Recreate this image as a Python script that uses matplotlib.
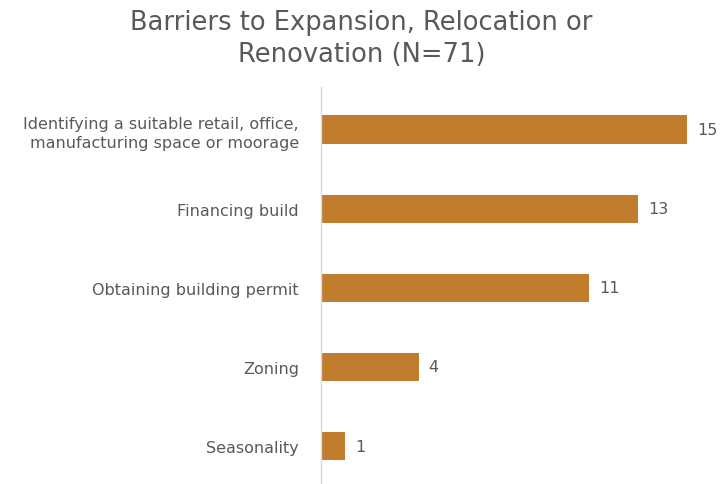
import matplotlib.pyplot as plt

plt.rcParams['font.family'] = ['DejaVu Sans']

categories = [
    "Identifying a suitable retail, office,\nmanufacturing space or moorage",
    "Financing build",
    "Obtaining building permit",
    "Zoning",
    "Seasonality",
]
counts = [15, 13, 11, 4, 1]

bar_color = "#C27C2E"
text_color = "#595959"

fig = plt.figure(figsize=(7.23, 4.85), dpi=100)
ax = fig.add_axes([321 / 723, 0, 402 / 723, 397 / 485])

ypos = list(range(len(categories)))
ax.barh(ypos, counts, height=0.36, color=bar_color)
for y, v in zip(ypos, counts):
    ax.text(v + 0.4, y, str(v), va="center", ha="left", fontsize=11.5, color=text_color)

ax.set_xlim(0, 402 / 24.4)
ax.set_ylim(4.48, -0.54)
ax.set_yticks(ypos)
ax.set_yticklabels(categories, fontsize=11.5, color=text_color, linespacing=1.35)
ax.tick_params(axis="y", length=0, pad=16)
ax.set_xticks([])
for side in ["top", "right", "bottom"]:
    ax.spines[side].set_visible(False)
ax.spines["left"].set_color("#D9D9D9")
ax.spines["left"].set_linewidth(1.0)
ax.set_facecolor("none")

fig.text(0.5, 1 - 39 / 485, "Barriers to Expansion, Relocation or\nRenovation (N=71)",
         ha="center", va="center", fontsize=18.5, color=text_color, linespacing=1.35)

fig.savefig("out.png", dpi=100)
